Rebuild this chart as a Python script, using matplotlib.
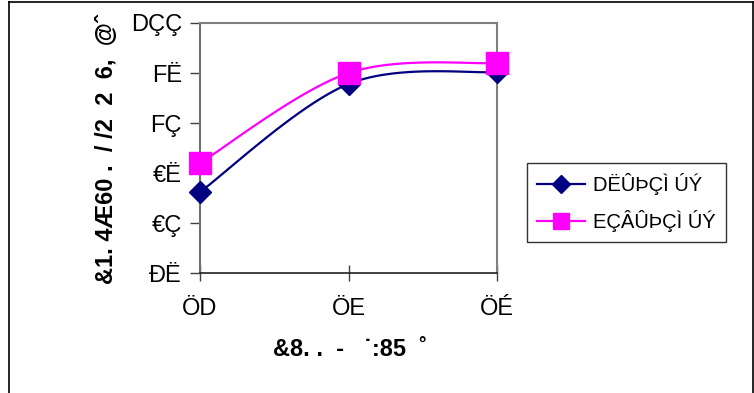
import numpy as np
import matplotlib
matplotlib.use("Agg")
import matplotlib.pyplot as plt
from matplotlib.lines import Line2D

# ---- data ----
categories = ["ÖD", "ÖE", "ÖÉ"]
series_names = ["DËÛÞÇÌ ÚÝ", "EÇÂÛÞÇÌ ÚÝ"]
blue_values = [83.1, 93.9, 95.1]
pink_values = [86.0, 95.0, 96.0]
y_ticks = [75, 80, 85, 90, 95, 100]
y_tick_labels = ["ĐË", "€Ç", "€Ë", "FÇ", "FË", "DÇÇ"]
x_label = "&8. .  -   ˙:85  ˚"
y_label = "&1. 4Æ60 .  / /2  2  6,  @ˆ"

FONT = ["Liberation Sans Narrow", "Liberation Sans", "DejaVu Sans"]
BOLD = ["Liberation Sans", "DejaVu Sans"]


def smooth(xs, ys, n=60):
    """Catmull-Rom style Bezier smoothing (as in spreadsheet smoothed lines)."""
    P = np.column_stack([xs, ys]).astype(float)
    m = len(P)
    out = []
    for i in range(m - 1):
        p0 = P[i]
        p3 = P[i + 1]
        prev = P[i - 1] if i > 0 else P[i]
        nxt = P[i + 2] if i + 2 < m else P[i + 1]
        c1 = p0 + (p3 - prev) / 6.0
        c2 = p3 - (nxt - p0) / 6.0
        t = np.linspace(0, 1, n)[:, None]
        seg = ((1 - t) ** 3) * p0 + 3 * ((1 - t) ** 2) * t * c1 + 3 * (1 - t) * t ** 2 * c2 + t ** 3 * p3
        out.append(seg if i == 0 else seg[1:])
    arr = np.vstack(out)
    return arr[:, 0], arr[:, 1]


W, H = 754, 393
fig = plt.figure(figsize=(W / 100, H / 100), dpi=100)
fig.patch.set_facecolor("white")

ax = fig.add_axes([200 / W, (H - 273) / H, 297 / W, 250 / H])
x = np.arange(len(categories))

blue = "#000080"
pink = "#FF00FF"

bx, by = smooth(x, blue_values)
px, py = smooth(x, pink_values)
ax.plot(bx, by, color=blue, lw=1.6, zorder=3, clip_on=False)
ax.plot(x, blue_values, linestyle="none", marker="D", ms=11, color=blue, zorder=4, clip_on=False)
ax.plot(px, py, color=pink, lw=1.6, zorder=5, clip_on=False)
ax.plot(x, pink_values, linestyle="none", marker="s", ms=16, color=pink, zorder=6, clip_on=False)

ax.set_xlim(0, 2)
ax.set_ylim(75, 100)
ax.set_yticks(y_ticks)
ax.set_yticklabels(y_tick_labels, family=FONT, fontsize=17)
ax.set_xticks(x)
ax.set_xticklabels(categories, family=FONT, fontsize=17)
ax.tick_params(axis="y", direction="out", length=7, width=1, color="#404040", pad=6)
ax.tick_params(axis="x", direction="inout", length=12, width=1, color="#404040", pad=12)

for side in ["top", "right"]:
    ax.spines[side].set_color("#808080")
    ax.spines[side].set_linewidth(1.5)
ax.spines["left"].set_color("#707070")
ax.spines["left"].set_linewidth(1.5)
ax.spines["bottom"].set_color("#202020")
ax.spines["bottom"].set_linewidth(1.2)

fig.text(350 / W, 1 - 350 / H, x_label, ha="center", va="center",
         family=BOLD, fontweight="bold", fontsize=17)
fig.text(107 / W, 1 - 149 / H, y_label, ha="center", va="center", rotation=90,
         family=BOLD, fontweight="bold", fontsize=17)

handles = [
    Line2D([], [], color=blue, lw=1.6, marker="D", ms=9),
    Line2D([], [], color=pink, lw=1.6, marker="s", ms=12),
]
leg = fig.legend(handles, series_names, loc="upper left",
                 bbox_to_anchor=(527 / W, 1 - 163 / H), borderaxespad=0,
                 frameon=True, fancybox=False, edgecolor="#000000",
                 prop={"family": FONT, "size": 14.5}, handlelength=2.4,
                 handletextpad=0.4, labelspacing=0.75, borderpad=0.5)
leg.get_frame().set_linewidth(1.0)

# outer frame
fig.add_artist(Line2D([9 / W, 9 / W], [0, 1 - 2 / H], color="black", lw=1.2, transform=fig.transFigure))
fig.add_artist(Line2D([9 / W, 752.5 / W], [1 - 2 / H, 1 - 2 / H], color="black", lw=1.2, transform=fig.transFigure))
fig.add_artist(Line2D([752.5 / W, 752.5 / W], [0, 1 - 2 / H], color="black", lw=1.2, transform=fig.transFigure))

fig.savefig("out.png", dpi=100)
